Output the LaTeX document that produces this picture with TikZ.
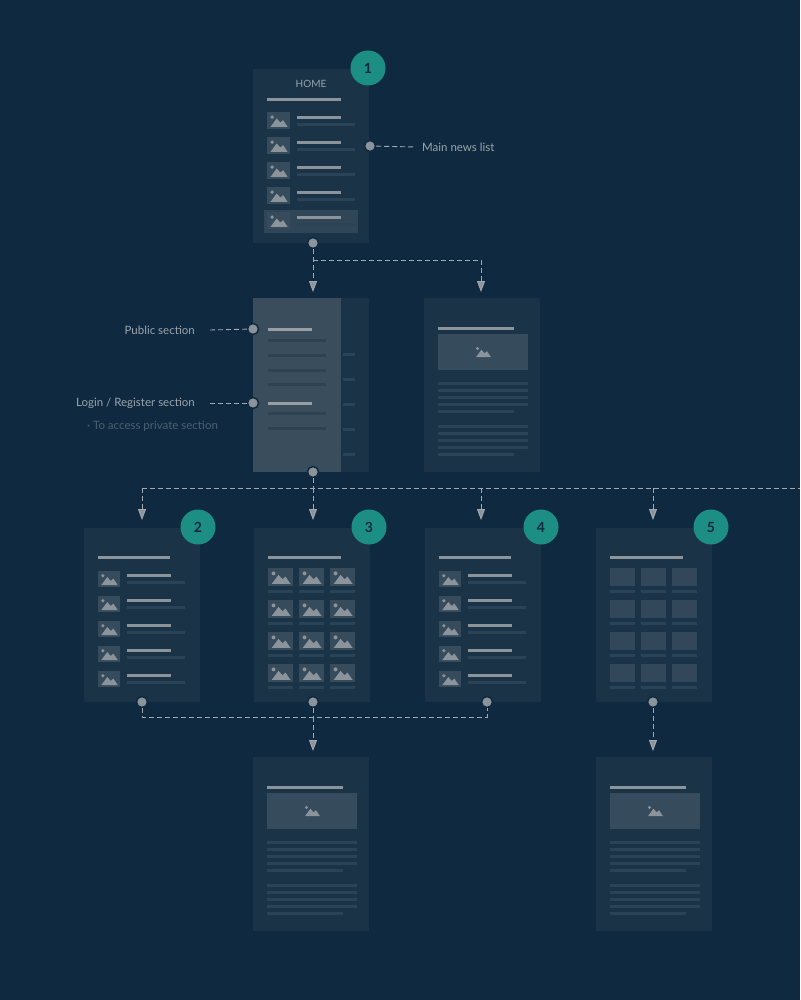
\documentclass[tikz,border=0pt]{standalone}
\usepackage{fontspec}
\setmainfont{Lato}
\usetikzlibrary{arrows.meta}
\definecolor{bg}{HTML}{0F2A40}
\definecolor{card}{HTML}{1A3347}
\definecolor{panel}{HTML}{3A4D5D}
\definecolor{light}{HTML}{8C949B}
\definecolor{dim}{HTML}{2A4356}
\definecolor{icbg}{HTML}{364B5C}
\definecolor{teal}{HTML}{1C8E84}
\definecolor{lab}{HTML}{9AA4AC}
\tikzset{
 conn/.style={draw=light!80, dashed, dash pattern=on 5pt off 3pt, line width=0.9pt},
 arr/.style={conn,-{Triangle[width=8pt,length=11pt,fill=light]}},
 dotn/.style={circle, fill=light, draw=bg, line width=1.5pt, inner sep=0pt, minimum size=11pt},
 num/.style={circle, fill=teal, inner sep=0pt, minimum size=35pt, font=\bfseries\fontsize{14}{14}\selectfont, text=bg},
 labl/.style={font=\fontsize{11.5}{13}\selectfont, text=lab, inner sep=1pt},
 cardbox/.style={fill=card}
}
\newcommand\picon[4]{%
 \fill[icbg] (#1,#2) rectangle ++(#3,#4);
 \begin{scope}[shift={(#1,#2)},xscale=#3,yscale=#4]
  \fill[light] (0.15,0.88) -- (0.42,0.38) -- (0.58,0.62) -- (0.7,0.48) -- (0.9,0.88) -- cycle;
  \fill[light] (0.22,0.3) ellipse [x radius=0.08, y radius=0.11];
 \end{scope}}
\newcommand\sbar[4]{\fill[#4] (#1,#2) rectangle (#3,#2+2.6);}
\newcommand\listcard[1]{%
 \fill[card] (#1,528) rectangle ++(116,174);
 \sbar{#1+14}{556}{#1+86}{light}
 \foreach \yy in {571,596,621,646,671}{
  \picon{#1+14}{\yy}{22}{16}
  \sbar{#1+43}{\yy+3}{#1+87}{light}
  \sbar{#1+43}{\yy+10}{#1+101}{dim}}}
\newcommand\artcard[2]{%
 \fill[card] (#1,#2) rectangle ++(116,174);
 \sbar{#1+14}{#2+29}{#1+90}{light}
 \fill[icbg] (#1+14,#2+36) rectangle ++(90,36);
 \picon{#1+49}{#2+46}{20}{15}
 \foreach \dy in {84,91,98,105}{\sbar{#1+14}{#2+\dy}{#1+104}{dim}}
 \sbar{#1+14}{#2+112}{#1+90}{dim}
 \foreach \dy in {127,134,141,148}{\sbar{#1+14}{#2+\dy}{#1+104}{dim}}
 \sbar{#1+14}{#2+155}{#1+90}{dim}}
\begin{document}
\begin{tikzpicture}[x=1pt,y=-1pt]
\fill[bg] (0,0) rectangle (800,1000);
\useasboundingbox (0,0) rectangle (800,1000);
% HOME card
\fill[card] (253,69) rectangle (369,243);
\node[font=\fontsize{10}{11}\selectfont, text=lab] (home) at (311,84) {HOME};
\sbar{267}{98}{341}{light}
\fill[panel!70!card] (264,210) rectangle (358,233);
\foreach \yy in {112,137,162,187,212}{
 \picon{267}{\yy}{23}{17}
 \sbar{297}{\yy+4}{341}{light}
 \sbar{297}{\yy+11}{355}{dim}}
\node[num] (n1) at (368,68) {1};
% Menu card
\fill[card] (253,298) rectangle (369,472);
\fill[panel] (253,298) rectangle (341,472);
\foreach \yy in {353,378,403,428,453}{\sbar{343}{\yy}{355}{dim}}
\sbar{268}{328}{312}{light!90!white}
\foreach \yy in {339,354,369,383,412,427}{\sbar{268}{\yy}{326}{panel!70!bg}}
\sbar{268}{402}{312}{light!90!white}
% Article card top
\artcard{424}{298}
% Row cards
\listcard{84}
\fill[card] (254,528) rectangle ++(116,174);
\sbar{268}{556}{341}{light}
\foreach \yy in {568,600,632,664}{
 \foreach \xx in {268,299,330}{
  \picon{\xx}{\yy}{25}{18}
  \sbar{\xx}{\yy+22}{\xx+25}{dim}}}
\listcard{425}
\fill[card] (596,528) rectangle ++(116,174);
\sbar{610}{556}{683}{light}
\foreach \yy in {568,600,632,664}{
 \foreach \xx in {610,641,672}{
  \fill[icbg!85!card] (\xx,\yy) rectangle ++(25,18);
  \sbar{\xx}{\yy+22}{\xx+25}{dim}}}
\node[num] (n2) at (198,527) {2};
\node[num] (n3) at (369,527) {3};
\node[num] (n4) at (541,527) {4};
\node[num] (n5) at (711,527) {5};
% bottom article cards
\artcard{253}{757}
\artcard{596}{757}
% connector coordinates
\node[dotn] (d1) at (313,243) {};
\node[dotn] (dm) at (370,146) {};
\node[dotn] (dp) at (253,329) {};
\node[dotn] (dl) at (253,403) {};
\node[dotn] (d2) at (313,472) {};
\node[dotn] (e1) at (142,702) {};
\node[dotn] (e2) at (313,702) {};
\node[dotn] (e3) at (487,702) {};
\node[dotn] (e4) at (653,702) {};
\coordinate (t1) at (313,292);
\coordinate (t2) at (481,292);
\coordinate (r1) at (142,520);
\coordinate (r2) at (313,520);
\coordinate (r3) at (481,520);
\coordinate (r4) at (653,520);
\coordinate (redge) at (800,488);
\coordinate (b1) at (313,751);
\coordinate (b2) at (653,751);
\draw[arr] (d1) -- (t1);
\draw[arr] (313,260) -- (481,260) -- (t2);
\draw[conn] (d2) -- (313,488);
\draw[conn] (r1 |- redge) -- (redge);
\draw[arr] (142,488) -- (r1);
\draw[arr] (313,488) -- (r2);
\draw[arr] (481,488) -- (r3);
\draw[arr] (653,488) -- (r4);
\draw[conn] (e1) -- (142,717) -- (487,717) -- (e3);
\draw[conn] (e2) -- (313,717);
\draw[arr] (313,717) -- (b1);
\draw[arr] (e4) -- (b2);
% labels
\node[labl, anchor=west] (lm) at (421,147) {Main news list};
\draw[conn] (dm) -- ([xshift=-6pt]lm.west);
\node[labl, anchor=east] (lp) at (196,330) {Public section};
\draw[conn] (lp.east) ++(14,0) coordinate (cp) (cp) -- (dp);
\node[labl, anchor=east] (ll) at (196,403) {Login / Register section};
\draw[conn] (ll.east) ++(14,0) coordinate (cl) (cl) -- (dl);
\node[labl, anchor=west, text=dim!70!lab] (lt) at (86,426) {· To access private section};
\end{tikzpicture}
\end{document}
